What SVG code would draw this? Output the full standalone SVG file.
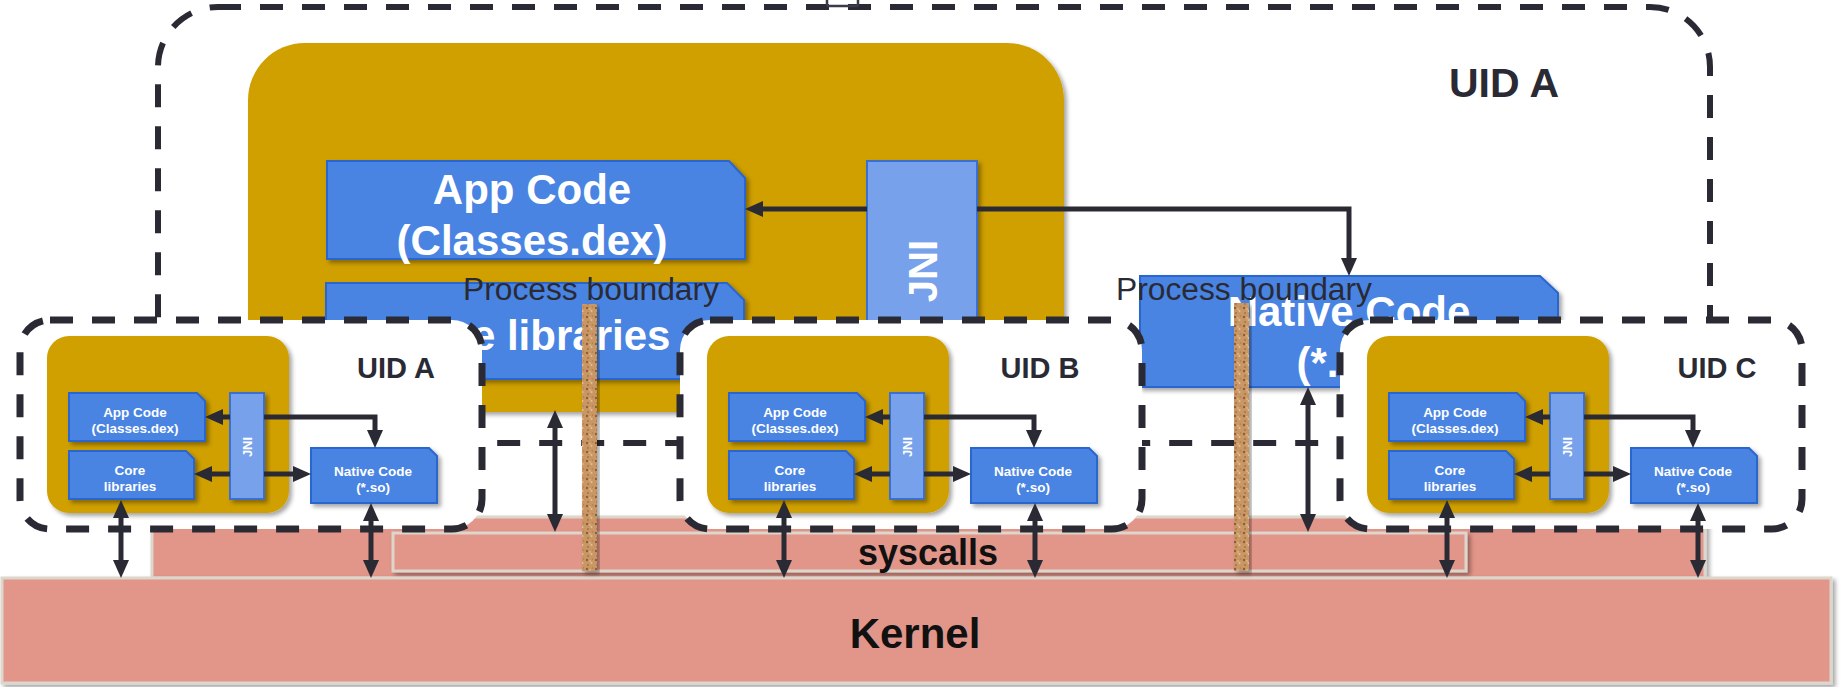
<svg xmlns="http://www.w3.org/2000/svg" width="1841" height="687" viewBox="0 0 1841 687">
<defs>
<style>
.dash-big{fill:none;stroke:#2a2a35;stroke-width:6;stroke-dasharray:23 19}
.dash-small{fill:#fff;stroke:#2a2a35;stroke-width:7;stroke-dasharray:23 19}
.gold{fill:#d0a000;filter:url(#sh)}
.blue{fill:#4a84e2;stroke:#2c66cf;stroke-width:2;filter:url(#sh)}
.jni{fill:#77a1ea;stroke:#3a6fd3;stroke-width:2;filter:url(#sh)}
.salmon{fill:#e29589;stroke:#dcd6cc;stroke-width:3;filter:url(#sh)}
.wt{font-family:"Liberation Sans",Arial,sans-serif;font-weight:bold;fill:#fff;text-anchor:middle}
.wb{font-size:42px}
.ws{font-size:13.5px}
.lbl{font-family:"Liberation Sans",Arial,sans-serif;font-weight:bold;fill:#2a2a35;text-anchor:middle}
.pb{font-family:"Liberation Sans",Arial,sans-serif;font-size:31px;fill:#2a2a35}
.conn{fill:none;stroke:#2a2a35;stroke-width:5}
.arr{marker-end:url(#ah)}
.dbl{marker-start:url(#ah);marker-end:url(#ah)}
</style>
<filter id="sh" x="-10%" y="-10%" width="130%" height="140%">
<feDropShadow dx="3" dy="3" stdDeviation="2" flood-color="#000" flood-opacity="0.35"/>
</filter>
<marker id="ah" viewBox="0 0 18 16" refX="8" refY="8" markerWidth="18" markerHeight="16" markerUnits="userSpaceOnUse" orient="auto-start-reverse">
<path d="M0,0 L18,8 L0,16 Z" fill="#2a2a35"/>
</marker>
<pattern id="cork" width="9" height="9" patternUnits="userSpaceOnUse">
<rect width="9" height="9" fill="#c99766"/>
<circle cx="2" cy="2" r="1.2" fill="#8f5d32"/>
<circle cx="6.5" cy="5" r="1" fill="#e6c294"/>
<circle cx="3" cy="7" r="0.9" fill="#a86e3e"/>
<circle cx="7.5" cy="1" r="0.8" fill="#b47a48"/>
<circle cx="5" cy="3" r="0.7" fill="#efd2a6"/>
</pattern>
</defs>
<rect width="1841" height="687" fill="#fff"/>

<!-- large UID A process (background) -->
<g id="big-uid-a">
<rect class="dash-big" x="158" y="7" width="1552" height="436" rx="60"/>
<path d="M827,0 V4 Q827,6 829,6 H856 Q858,6 858,4 V0" fill="none" stroke="#3a3a48" stroke-width="2.5"/>
<text class="lbl" x="1504" y="97" font-size="41">UID A</text>
</g>
<g id="big-gold">
<rect class="gold" x="248" y="43" width="816" height="369" rx="57"/>
</g>
<g id="big-app-code">
<path class="blue" d="M327,161 H729 L745,178 V259 H327 Z"/>
<text class="wt wb" x="532" y="204">App Code</text>
<text class="wt wb" x="532" y="255">(Classes.dex)</text>
</g>
<g id="big-core-libraries">
<path class="blue" d="M326,283 H727 L744,300 V379 H326 Z"/>
<text class="wt wb" x="535" y="350">Core libraries</text>
</g>
<g id="big-jni">
<rect class="jni" x="867" y="161" width="110" height="218"/>
<text class="wt" font-size="40" transform="translate(937,271) rotate(-90)">JNI</text>
</g>
<g id="big-native-code">
<path class="blue" d="M1140,276 H1540 L1558,293 V387 H1140 Z"/>
<text class="wt wb" x="1349" y="326">Native Code</text>
<text class="wt wb" x="1349" y="377">(*.so)</text>
</g>

<!-- kernel layers -->
<g id="syscall-layer">
<rect class="salmon" x="152" y="517" width="1553" height="61"/>
</g>
<g id="syscalls">
<rect class="salmon" x="393" y="533" width="1073" height="38" stroke="#ece6de"/>
<text class="lbl" x="928" y="565" font-size="36" style="fill:#111">syscalls</text>
</g>
<g id="kernel">
<rect class="salmon" x="2" y="578" width="1829" height="105"/>
<text class="lbl" x="915" y="648" font-size="42" style="fill:#111">Kernel</text>
</g>

<!-- small processes -->
<g id="uid-a">
<rect class="dash-small" x="20" y="320" width="462" height="209" rx="30"/>
<rect class="gold" x="47" y="336" width="242" height="177" rx="22"/>
<path class="blue" d="M69,393 H197 L205,401 V441 H69 Z"/>
<text class="wt ws" x="135" y="417">App Code</text>
<text class="wt ws" x="135" y="433">(Classes.dex)</text>
<path class="blue" d="M69,451 H186 L194,459 V499 H69 Z"/>
<text class="wt ws" x="130" y="475">Core</text>
<text class="wt ws" x="130" y="491">libraries</text>
<rect class="jni" x="230" y="393" width="34" height="106"/>
<text class="wt" font-size="13" transform="translate(252,447) rotate(-90)">JNI</text>
<path class="blue" d="M311,448 H429 L437,456 V503 H311 Z"/>
<text class="wt ws" x="373" y="476">Native Code</text>
<text class="wt ws" x="373" y="492">(*.so)</text>
<text class="lbl" x="396" y="378" font-size="29">UID A</text>
</g>
<g id="uid-b" transform="translate(660,0)">
<rect class="dash-small" x="20" y="320" width="462" height="209" rx="30"/>
<rect class="gold" x="47" y="336" width="242" height="177" rx="22"/>
<path class="blue" d="M69,393 H197 L205,401 V441 H69 Z"/>
<text class="wt ws" x="135" y="417">App Code</text>
<text class="wt ws" x="135" y="433">(Classes.dex)</text>
<path class="blue" d="M69,451 H186 L194,459 V499 H69 Z"/>
<text class="wt ws" x="130" y="475">Core</text>
<text class="wt ws" x="130" y="491">libraries</text>
<rect class="jni" x="230" y="393" width="34" height="106"/>
<text class="wt" font-size="13" transform="translate(252,447) rotate(-90)">JNI</text>
<path class="blue" d="M311,448 H429 L437,456 V503 H311 Z"/>
<text class="wt ws" x="373" y="476">Native Code</text>
<text class="wt ws" x="373" y="492">(*.so)</text>
<text class="lbl" x="380" y="378" font-size="29">UID B</text>
</g>
<g id="uid-c" transform="translate(1320,0)">
<rect class="dash-small" x="20" y="320" width="462" height="209" rx="30"/>
<rect class="gold" x="47" y="336" width="242" height="177" rx="22"/>
<path class="blue" d="M69,393 H197 L205,401 V441 H69 Z"/>
<text class="wt ws" x="135" y="417">App Code</text>
<text class="wt ws" x="135" y="433">(Classes.dex)</text>
<path class="blue" d="M69,451 H186 L194,459 V499 H69 Z"/>
<text class="wt ws" x="130" y="475">Core</text>
<text class="wt ws" x="130" y="491">libraries</text>
<rect class="jni" x="230" y="393" width="34" height="106"/>
<text class="wt" font-size="13" transform="translate(252,447) rotate(-90)">JNI</text>
<path class="blue" d="M311,448 H429 L437,456 V503 H311 Z"/>
<text class="wt ws" x="373" y="476">Native Code</text>
<text class="wt ws" x="373" y="492">(*.so)</text>
<text class="lbl" x="397" y="378" font-size="29">UID C</text>
</g>

<!-- connectors -->
<g id="connectors">
<path class="conn arr" d="M867,209 H755"/>
<path class="conn arr" d="M977,209 H1349 V266"/>
<path class="conn dbl" d="M555,420 V522"/>
<path class="conn dbl" d="M1308,397 V522"/>

<path class="conn arr" d="M230,417 H215"/>
<path class="conn arr" d="M264,417 H375 V438"/>
<path class="conn arr" d="M230,474 H204"/>
<path class="conn arr" d="M264,474 H301"/>
<path class="conn dbl" d="M121,510 V568"/>
<path class="conn dbl" d="M371,513 V568"/>

<path class="conn arr" d="M890,417 H875"/>
<path class="conn arr" d="M924,417 H1034 V438"/>
<path class="conn arr" d="M890,474 H864"/>
<path class="conn arr" d="M924,474 H961"/>
<path class="conn dbl" d="M784,510 V568"/>
<path class="conn dbl" d="M1035,513 V568"/>

<path class="conn arr" d="M1550,417 H1535"/>
<path class="conn arr" d="M1584,417 H1693 V438"/>
<path class="conn arr" d="M1550,474 H1524"/>
<path class="conn arr" d="M1584,474 H1621"/>
<path class="conn dbl" d="M1447,510 V568"/>
<path class="conn dbl" d="M1698,513 V568"/>
</g>

<!-- process boundaries -->
<g id="process-boundary-1">
<text class="pb" x="463" y="300" textLength="256" lengthAdjust="spacingAndGlyphs">Process boundary</text>
<rect x="582" y="304" width="15" height="267" fill="url(#cork)" filter="url(#sh)"/>
</g>
<g id="process-boundary-2">
<text class="pb" x="1116" y="300" textLength="256" lengthAdjust="spacingAndGlyphs">Process boundary</text>
<rect x="1234" y="303" width="15" height="268" fill="url(#cork)" filter="url(#sh)"/>
</g>
</svg>
